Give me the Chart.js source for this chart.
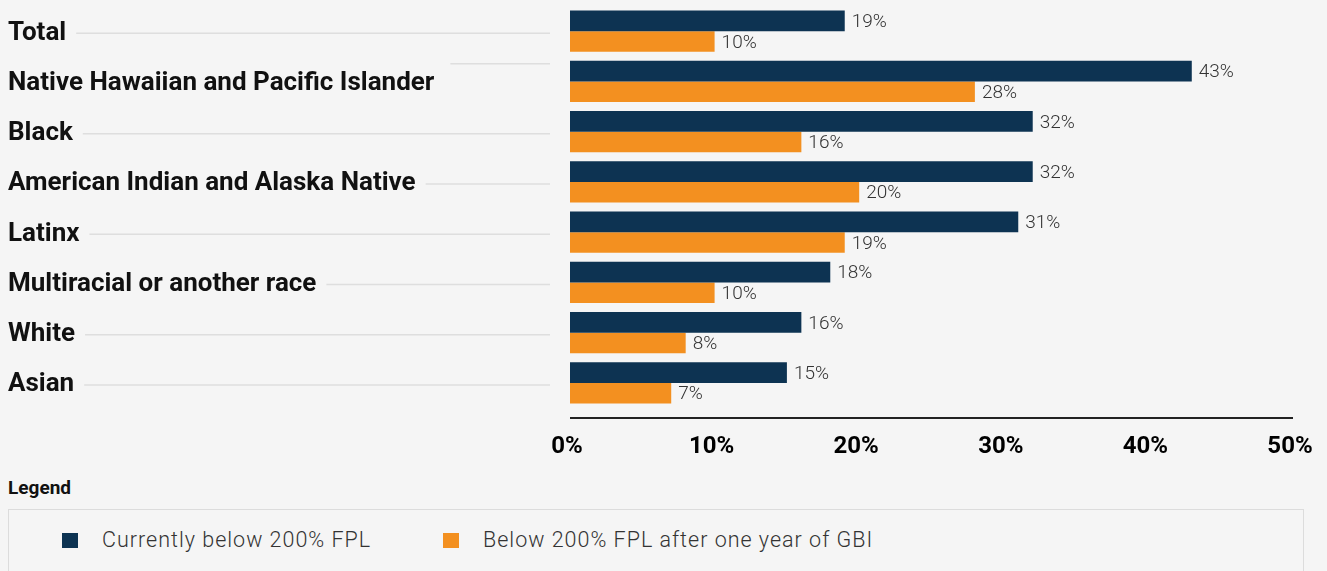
<!DOCTYPE html>
<html>
<head>
<meta charset="utf-8">
<script src="https://cdn.jsdelivr.net/npm/chart.js@4.4.0/dist/chart.umd.min.js"></script>
<style>
  html, body { margin: 0; padding: 0; background: #f5f5f5; }
  body { width: 1327px; height: 571px; overflow: hidden; position: relative; font-family: Roboto, sans-serif; }
  #chartBox { position: absolute; left: 0; top: 0; width: 1327px; height: 470px; }
  #legendTitle { position: absolute; left: 8px; top: 476px; font-weight: bold; font-size: 19px; color: #111; }
  #legendBox { position: absolute; left: 8px; top: 509px; width: 1296px; height: 80px; border: 1px solid #dcdcdc; box-sizing: border-box; }
  .item { position: absolute; top: 17px; font-size: 21.5px; font-weight: 300; color: #333; line-height: 26px; white-space: nowrap; letter-spacing: 1px; }
  .swatch { position: absolute; left: -40px; top: 6px; width: 16px; height: 15px; }
</style>
</head>
<body>
<div id="chartBox"><canvas id="chartGbi"></canvas></div>
<div id="legendTitle">Legend</div>
<div id="legendBox"></div>
<script>
const categories = ['Total', 'Native Hawaiian and Pacific Islander', 'Black', 'American Indian and Alaska Native', 'Latinx', 'Multiracial or another race', 'White', 'Asian'];
const currentBelow = [19, 43, 32, 32, 31, 18, 16, 15];
const afterGbi = [10, 28, 16, 20, 19, 10, 8, 7];
const seriesNames = ['Currently below 200% FPL', 'Below 200% FPL after one year of GBI'];
const seriesColors = ['#0d3352', '#f39020'];
const xTicks = [0, 10, 20, 30, 40, 50];

const labelFont = 'bold 26px Roboto';

/* 图例 (html) */
const legendX = [93, 474];
seriesNames.forEach(function (name, i) {
  const item = document.createElement('div');
  item.className = 'item';
  item.style.left = legendX[i] + 'px';
  item.innerHTML = '<span class="swatch" style="background:' + seriesColors[i] + '"></span>' + name;
  document.getElementById('legendBox').appendChild(item);
});

// value labels, connector lines, axis line
const extras = {
  id: 'extras',
  afterDatasetsDraw: function (chart) {
    const ctx = chart.ctx;
    ctx.save();
    ctx.font = '300 19px Roboto';
    ctx.fillStyle = '#333';
    ctx.textBaseline = 'middle';
    chart.data.datasets.forEach(function (ds, d) {
      chart.getDatasetMeta(d).data.forEach(function (bar, i) {
        ctx.fillText(ds.data[i] + '%', bar.x + 7, bar.y + 1.5);
      });
    });
    ctx.restore();
  },
  afterDraw: function (chart) {
    const ctx = chart.ctx;
    const area = chart.chartArea;
    const yScale = chart.scales.y;
    const slot = (yScale.bottom - yScale.top) / categories.length;
    ctx.save();
    ctx.font = labelFont;
    ctx.strokeStyle = '#dedede';
    ctx.lineWidth = 1.5;
    categories.forEach(function (c, i) {
      const w = ctx.measureText(c).width;
      let x0 = yScale.left + w + 10;
      let y = yScale.getPixelForValue(i) + 2;
      if (x0 > 440) {
        x0 += 6;
        y = yScale.getPixelForValue(i) - slot * 0.35;
      }
      ctx.beginPath();
      ctx.moveTo(x0, y);
      ctx.lineTo(area.left - 20, y);
      ctx.stroke();
    });
    ctx.strokeStyle = '#222';
    ctx.lineWidth = 2;
    ctx.beginPath();
    ctx.moveTo(area.left, area.bottom + 10);
    ctx.lineTo(area.right, area.bottom + 10);
    ctx.stroke();
    ctx.restore();
  },
};

const chart = new Chart(document.getElementById('chartGbi'), {
  type: 'bar',
  data: {
    labels: categories,
    datasets: [
      {
        label: seriesNames[0],
        data: currentBelow,
        backgroundColor: seriesColors[0],
        barPercentage: 1,
        categoryPercentage: 0.82,
      },
      {
        label: seriesNames[1],
        data: afterGbi,
        backgroundColor: seriesColors[1],
        barPercentage: 1,
        categoryPercentage: 0.82,
      },
    ],
  },
  options: {
    indexAxis: 'y',
    responsive: true,
    maintainAspectRatio: false,
    animation: false,
    layout: {
      padding: { left: 8, top: 6, right: 34, bottom: 0 },
    },
    plugins: {
      legend: { display: false },
      tooltip: { enabled: false },
    },
    scales: {
      x: {
        min: xTicks[0],
        max: xTicks[xTicks.length - 1],
        afterBuildTicks: function (s) {
          s.ticks = xTicks.map(function (v) { return { value: v }; });
        },
        afterFit: function (s) {
          s.height = 62;
          s.paddingLeft = 0;
          s.paddingRight = 0;
        },
        ticks: {
          padding: 25,
          labelOffset: -3,
          maxRotation: 0,
          color: '#000',
          font: { family: 'Roboto', size: 24, weight: 'bold' },
          callback: function (v) { return v + '%'; },
        },
        grid: { display: false, drawTicks: false },
        border: { display: false },
      },
      y: {
        afterFit: function (s) {
          s.width = 562;
          s.paddingTop = 0;
          s.paddingBottom = 0;
        },
        ticks: {
          crossAlign: 'far',
          padding: 0,
          labelOffset: 2,
          color: '#111',
          font: { family: 'Roboto', size: 26, weight: 'bold' },
        },
        grid: { display: false, drawTicks: false },
        border: { display: false },
      },
    },
  },
  plugins: [extras],
});
</script>
</body>
</html>
